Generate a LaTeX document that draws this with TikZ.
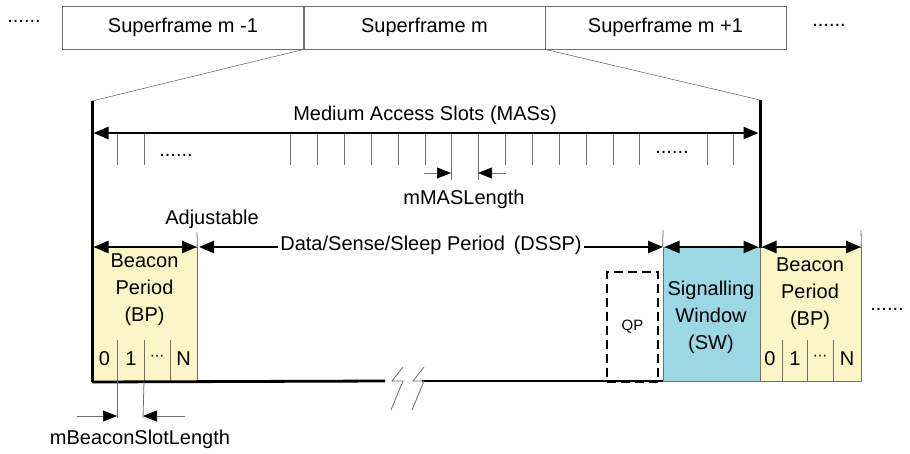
\documentclass[tikz,border=0pt]{standalone}
\usepackage{fontspec}
\setmainfont{Liberation Sans}
\newfontfamily\symfont{DejaVu Sans}
\usetikzlibrary{arrows.meta}
\definecolor{bpyellow}{RGB}{252,245,198}
\definecolor{swblue}{RGB}{156,216,227}
\definecolor{thingray}{RGB}{110,110,110}
\begin{document}
\begin{tikzpicture}[x=1pt,y=-1pt,
  every node/.style={font=\fontsize{20}{27}\selectfont},
  sfbox/.style={draw=thingray,line width=0.8pt,minimum width=241pt,minimum height=43pt,inner sep=0pt},
  thickline/.style={line width=3pt,black},
  baseline/.style={line width=2.8pt,black},
  darr/.style={line width=2.5pt,black,{Triangle[length=15pt,width=12pt]}-{Triangle[length=15pt,width=12pt]}},
  smarr/.style={line width=0.7pt,thingray,-{Triangle[length=14pt,width=11pt,black]}},
  tick/.style={line width=0.8pt,thingray},
  zoomline/.style={line width=0.6pt,thingray},
  period/.style={draw=thingray,line width=0.8pt,inner sep=0pt,align=center},
  slotlbl/.style={inner sep=0pt,anchor=center},
  dots/.style={inner sep=0pt,anchor=base}
]
\useasboundingbox (0,0) rectangle (910,453);

% superframes
\node[sfbox] (sf1) at (183,27.5) {Superframe m -1};
\node[sfbox] (sf2) at (424.5,27.5) {Superframe m};
\node[sfbox] (sf3) at (665.5,27.5) {Superframe m +1};
\node[dots] (dl) at (24,22) {......};
\node[dots] (dr) at (829,26) {......};

% frame boundaries
\coordinate (Ltop) at (92,101);
\coordinate (Lbot) at (92,382);
\coordinate (Rtop) at (760,100);
\coordinate (Rbot) at (760,248);
\draw[zoomline] (sf2.south west) -- (Ltop);
\draw[zoomline] (sf2.south east) -- (Rtop);

% boxes
\node[period,fill=bpyellow,minimum width=105pt,minimum height=134pt] (bp1) at (144.5,314) {};
\node[period,fill=swblue,minimum width=97pt,minimum height=134pt] (sw) at (711.5,314) {};
\node[period,fill=bpyellow,minimum width=101pt,minimum height=134pt] (bp2) at (810.5,314) {};
\node[align=center,inner sep=0pt] (bp1t) at (144.5,290) {Beacon\\Period\\(BP)};
\node[align=center,inner sep=0pt] (swt) at (711,317) {Signalling\\Window\\(SW)};
\node[align=center,inner sep=0pt] (bp2t) at (810,294) {Beacon\\Period\\(BP)};
\node[draw=black,line width=2.8pt,dash pattern=on 9pt off 5pt,minimum width=51pt,minimum height=110pt,inner sep=0pt,font=\fontsize{15}{18}\selectfont] (qp) at (632.5,327) {QP};

% slot dividers
\foreach \x [count=\i] in {117,144,170} {\coordinate (s\i a) at (\x,340); \coordinate (s\i b) at (\x,381); \draw[tick] (s\i a) -- (s\i b);}
\foreach \x [count=\i] in {782,807,833} {\coordinate (t\i a) at (\x,340); \coordinate (t\i b) at (\x,381); \draw[tick] (t\i a) -- (t\i b);}
\node[slotlbl] (n10) at (104.5,359) {0};
\node[slotlbl] (n11) at (131,359) {1};
\node[slotlbl,font=\symfont\fontsize{14}{14}\selectfont] (n1d) at (157,358) {⋯};
\node[slotlbl] (n1n) at (183.5,359) {N};
\node[slotlbl] (n20) at (770,359) {0};
\node[slotlbl] (n21) at (795,359) {1};
\node[slotlbl,font=\symfont\fontsize{14}{14}\selectfont] (n2d) at (820,358) {⋯};
\node[slotlbl] (n2n) at (847,359) {N};
\node[dots] (dbp) at (887,310) {......};

% upper extensions of boundaries
\coordinate (adjtop) at (197,232);
\coordinate (swtop) at (663,230);
\coordinate (bp2top) at (861,230);
\draw[tick] (adjtop) -- (bp1.north east);
\draw[tick] (swtop) -- (sw.north west);
\draw[tick] (bp2top) -- (bp2.north east);
\node[anchor=base,inner sep=0pt] (adj) at (212,224) {Adjustable};

% baseline with break
\coordinate (b1) at (385,381);
\coordinate (b2) at (422,381);
\coordinate (b3) at (663,381);
\draw[baseline] (Lbot) -- (b1);
\draw[baseline] (b2) -- (b3);
\draw[zoomline,line width=0.8pt] (403,367) -- (392,381) -- (403,381) -- (391,410);
\draw[zoomline,line width=0.8pt] (424,367) -- (413,381) -- (424,381) -- (412,410);

% thick frame verticals
\draw[thickline] (Ltop) -- (Lbot);
\draw[thickline] (Rtop) -- (Rbot);

% MAS arrow and ticks
\coordinate (mas1) at (93.5,133);
\coordinate (mas2) at (758.5,133);
\draw[darr] (mas1) -- (mas2);
\node[anchor=base,inner sep=0pt] (mas) at (425,120) {Medium Access Slots (MASs)};
\foreach \x in {117,144,290,317,344,371,398,425,505,532,559,586,613,639,707,733} {\draw[tick] (\x,134) -- (\x,165);}
\coordinate (m1) at (451,134); \coordinate (m1b) at (451,180);
\coordinate (m2) at (478,134); \coordinate (m2b) at (478,180);
\draw[tick] (m1) -- (m1b);
\draw[tick] (m2) -- (m2b);
\node[dots] (dm1) at (176,156) {......};
\node[dots] (dm2) at (672,153) {......};
\coordinate (ma) at (424,173);
\coordinate (mb) at (506,173);
\draw[smarr] (ma) -- (m1 |- ma);
\draw[smarr] (mb) -- (m2 |- mb);
\node[anchor=base,inner sep=0pt] (mlen) at (464,204) {mMASLength};

% period arrows
\coordinate (p0) at (93.5,247);
\coordinate (p1) at (197,247);
\coordinate (p1b) at (199,247);
\coordinate (p2) at (663,247);
\coordinate (p2b) at (664.5,247);
\coordinate (p3) at (758.5,247);
\coordinate (p3b) at (761.5,247);
\coordinate (p4) at (861,247);
\draw[darr] (p0) -- (p1);
\draw[darr] (p1b) -- (p2);
\draw[darr] (p2b) -- (p3);
\draw[darr] (p3b) -- (p4);
\node[fill=white,inner xsep=2pt,inner ysep=3pt] (dssp) at (431,245) {Data/Sense/Sleep Period \,(DSSP)};

% beacon slot length
\coordinate (bs1) at (117,416);
\coordinate (bs2) at (143,416);
\draw[tick] (s1b) -- (117,418);
\draw[tick] (s2b) -- (143,418);
\coordinate (bsa) at (77,416);
\coordinate (bsb) at (185,416);
\draw[smarr] (bsa) -- (bs1);
\draw[smarr] (bsb) -- (bs2);
\node[anchor=base,inner sep=0pt] (bsl) at (140,444) {mBeaconSlotLength};
\end{tikzpicture}
\end{document}
